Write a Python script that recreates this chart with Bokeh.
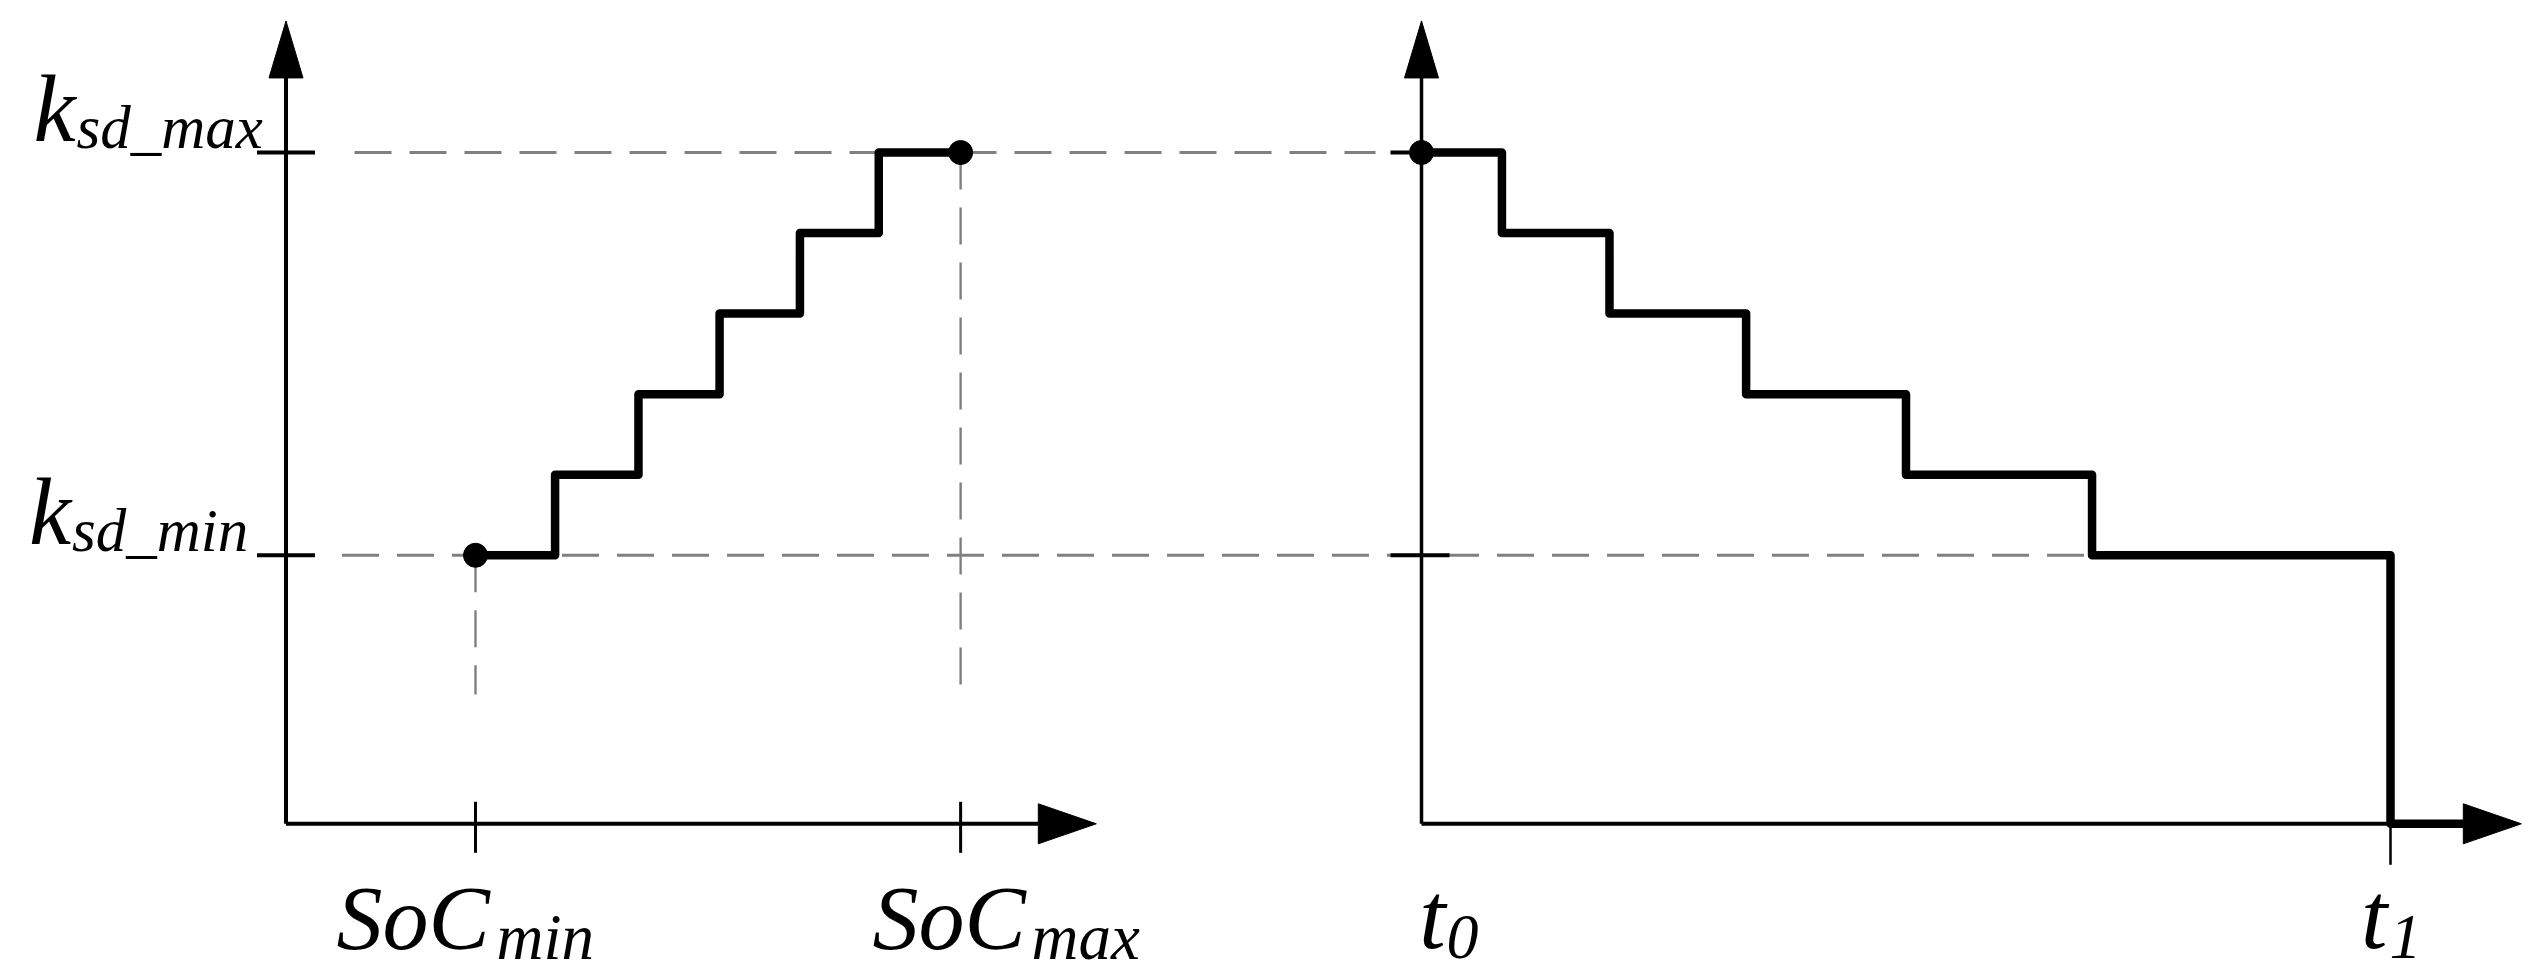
from bokeh.plotting import figure
from bokeh.models import Range1d
from bokeh.core.properties import value
from bokeh.embed import file_html
from bokeh.resources import INLINE

# ---------------- data ----------------
soc_steps = [25.0, 35.5, 46.5, 57.2, 67.8, 78.2, 89.0]      # SoC (%) at the step edges (SoC_min ... SoC_max)
k_levels = [0.40, 0.52, 0.64, 0.76, 0.88, 1.00]             # k_sd_min ... k_sd_max
t_steps = [0.0, 0.83, 1.94, 3.35, 5.00, 6.92, 10.0]         # t0 ... t1
k_levels_desc = k_levels[::-1]

SOC_MIN, SOC_MAX = soc_steps[0], soc_steps[-1]
K_MIN, K_MAX = k_levels[0], k_levels[-1]
T0, T1 = t_steps[0], t_steps[-1]

# axis extents (data units)
K_AXIS_TOP = 1.196
SOC_AXIS_END = 106.9
T_AXIS_END = 11.35

# ---------------- layout ----------------
W, H = 2525, 971
PX_SOC = 7.58      # pixels per SoC unit
PX_T = 96.9        # pixels per time unit
PX_K = 671.3       # pixels per k unit
ORIG_L = 285.5
ORIG_R = 1421.0
ORIG_Y = 823.3

def sx(px):
    return px / PX_SOC

def tx(px):
    return px / PX_T

def ky(px):
    return px / PX_K

p = figure(width=W, height=H,
           x_range=Range1d(-ORIG_L / PX_SOC, (W - ORIG_L) / PX_SOC),
           y_range=Range1d(-(H - ORIG_Y) / PX_K, ORIG_Y / PX_K),
           output_backend="svg", toolbar_location=None,
           x_axis_type=None, y_axis_type=None, min_border=0)
p.extra_x_ranges = {"t": Range1d(-ORIG_R / PX_T, (W - ORIG_R) / PX_T)}
p.outline_line_color = None
p.background_fill_color = "white"
p.border_fill_color = "white"

GRAY = "#808080"
DASH = "37 18"

# ---------------- dashed guides ----------------
span_lr = (ORIG_R - ORIG_L) / PX_SOC
p.line([sx(68.5), span_lr - sx(46)], [K_MAX, K_MAX], line_color=GRAY, line_width=3, line_dash=DASH)
p.line([sx(56), span_lr + sx(694)], [K_MIN, K_MIN], line_color=GRAY, line_width=3, line_dash=DASH)
V_END = ky(129.3)
p.line([SOC_MIN, SOC_MIN], [K_MIN, V_END], line_color=GRAY, line_width=2.4, line_dash=DASH)
p.line([SOC_MAX, SOC_MAX], [K_MAX, V_END], line_color=GRAY, line_width=2.4, line_dash=DASH)

# ---------------- axes ----------------
AV_L, AV_W = 57, 34   # vertical arrow length / width (px)
AH_L, AH_W = 58, 40   # horizontal arrow length / height (px)

# left panel
p.line([0, 0], [0, K_AXIS_TOP - ky(AV_L)], line_color="black", line_width=4)
p.patch([-sx(AV_W / 2), sx(AV_W / 2), 0], [K_AXIS_TOP - ky(AV_L)] * 2 + [K_AXIS_TOP], color="black", line_width=1)
p.line([0, SOC_AXIS_END - sx(AH_L)], [0, 0], line_color="black", line_width=4)
p.patch([SOC_AXIS_END - sx(AH_L)] * 2 + [SOC_AXIS_END], [ky(AH_W / 2), -ky(AH_W / 2), 0], color="black", line_width=1)

# right panel
p.line([0, 0], [0, K_AXIS_TOP - ky(AV_L)], line_color="black", line_width=3.5, x_range_name="t")
p.patch([-tx(AV_W / 2), tx(AV_W / 2), 0], [K_AXIS_TOP - ky(AV_L)] * 2 + [K_AXIS_TOP], color="black", line_width=1, x_range_name="t")
p.line([T0, T1], [0, 0], line_color="black", line_width=4, x_range_name="t")
p.patch([T_AXIS_END - tx(AH_L)] * 2 + [T_AXIS_END], [ky(AH_W / 2), -ky(AH_W / 2), 0], color="black", line_width=1, x_range_name="t")

# ticks
p.segment(x0=[-sx(29)] * 2, x1=[sx(29)] * 2, y0=[K_MIN, K_MAX], y1=[K_MIN, K_MAX], line_color="black", line_width=4)
p.segment(x0=[-tx(31)] * 2, x1=[tx(28)] * 2, y0=[K_MIN, K_MAX], y1=[K_MIN, K_MAX], line_color="black", line_width=4, x_range_name="t")
p.segment(x0=[SOC_MIN, SOC_MAX], x1=[SOC_MIN, SOC_MAX], y0=[ky(22)] * 2, y1=[-ky(29)] * 2, line_color="black", line_width=3)
p.segment(x0=[T1], x1=[T1], y0=[0], y1=[-ky(41)], line_color="black", line_width=2.5, x_range_name="t")

# ---------------- staircases ----------------
p.step(x=soc_steps, y=k_levels + [k_levels[-1]], mode="after",
       line_color="black", line_width=8.5, line_join="round")
p.step(x=t_steps + [T_AXIS_END - tx(AH_L)], y=k_levels_desc + [0, 0], mode="after",
       line_color="black", line_width=8.5, line_join="round", x_range_name="t")

# dots
p.scatter([SOC_MIN, SOC_MAX], [K_MIN, K_MAX], size=24, color="black")
p.scatter([T0], [K_MAX], size=24, color="black", x_range_name="t")

# ---------------- labels ----------------
FONT = value("Liberation Serif")
BASE_FIX = 0.21   # baseline correction, fraction of the font size

def txt(x, y, s, size, rng="default"):
    p.text(x=[x], y=[y + ky(BASE_FIX * size)], text=[s], text_font=FONT, text_font_style="italic",
           text_font_size=f"{size}px", text_color="black", text_align="left",
           text_baseline="alphabetic", x_range_name=rng)

# k labels
txt(sx(33 - 285.5), K_MAX + ky(23.7), "k", 95)
txt(sx(76 - 285.5), K_MAX + ky(12), "sd_max", 61)
txt(sx(28.5 - 285.5), K_MIN + ky(23.7), "k", 95)
txt(sx(71.5 - 285.5), K_MIN + ky(12), "sd_min", 61)

# SoC labels
txt(SOC_MIN - sx(139), -ky(114), "SoC", 92)
txt(SOC_MIN + sx(21), -ky(126.7), "min", 65)
txt(SOC_MAX - sx(88), -ky(114), "SoC", 92)
txt(SOC_MAX + sx(71), -ky(126.7), "max", 65)

# time labels
txt(T0 - tx(2.3), -ky(112), "t", 95, "t")
txt(T0 + tx(25), -ky(126.7), "0", 64, "t")
txt(T1 - tx(29.5), -ky(112), "t", 95, "t")
txt(T1 - tx(1), -ky(126.7), "1", 64, "t")

open("out.html", "w").write(file_html(p, INLINE))
